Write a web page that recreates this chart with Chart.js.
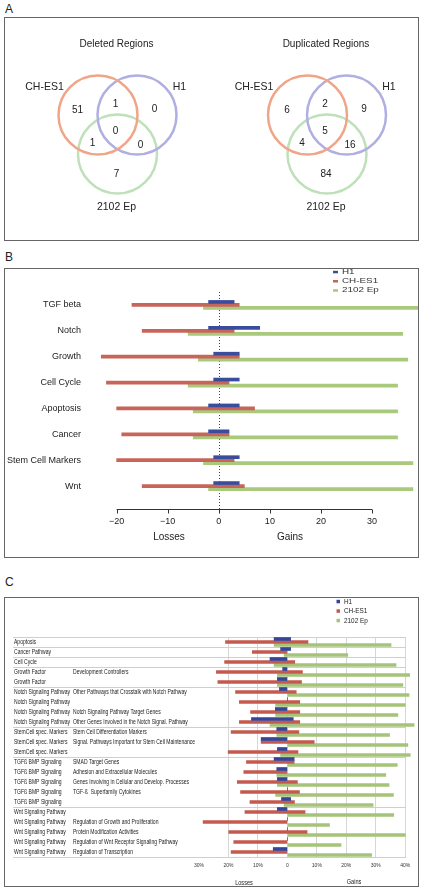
<!DOCTYPE html>
<html>
<head>
<meta charset="utf-8">
<script src="https://cdn.jsdelivr.net/npm/chart.js@4.4.1/dist/chart.umd.min.js"></script>
<style>
  body { margin: 0; background: #fff; font-family: "Liberation Sans", Arial, sans-serif; }
  .wrap { position: relative; width: 424px; height: 892px; overflow: hidden; }
  .tag { position: absolute; left: 5px; font-size: 12px; line-height: 12px; color: #222; }
  .box { position: absolute; left: 4px; width: 413px; border: 1px solid #666; }
  .box canvas { position: absolute; left: 0; top: 0; }
  .note { position: absolute; line-height: 1; white-space: nowrap; color: #222; }
</style>
</head>
<body>
<div class="wrap">
  <div class="tag" style="top:3px">A</div>
  <div class="box" style="top:17px;height:222px"><canvas id="venn" width="413" height="222"></canvas></div>

  <div class="tag" style="top:251px">B</div>
  <div class="box" style="top:268px;height:288px"><canvas id="pathways" width="413" height="288"></canvas></div>
  <div class="note" style="left:169px;top:537px;font-size:10px;transform:translate(-50%,-50%)">Losses</div>
  <div class="note" style="left:290px;top:537px;font-size:10px;transform:translate(-50%,-50%)">Gains</div>

  <div class="tag" style="top:576px">C</div>
  <div class="box" style="top:597px;height:288px"><canvas id="genes" width="413" height="288"></canvas></div>
  <div class="note" style="left:244px;top:882px;font-size:7px;transform:translate(-50%,-50%) scaleX(0.8)">Losses</div>
  <div class="note" style="left:354px;top:881px;font-size:7px;transform:translate(-50%,-50%) scaleX(0.8)">Gains</div>
</div>

<script>
// ---- A: Venn counts ----
const vennTitles = ['Deleted Regions', 'Duplicated Regions'];
const setNames = ['CH-ES1', 'H1', '2102 Ep'];
// regions: CH-ES1 only, H1 only, 2102 Ep only, CH-ES1+H1, CH-ES1+2102, H1+2102, all three
const deletedCounts = [51, 0, 7, 1, 1, 0, 0];
const duplicatedCounts = [6, 9, 84, 2, 4, 16, 5];

// ---- B: pathways, number of genes ----
const pathwayNames = ['TGF beta', 'Notch', 'Growth', 'Cell Cycle', 'Apoptosis', 'Cancer', 'Stem Cell Markers', 'Wnt'];
const h1Losses = [-2, -2, -1, -1, -2, -2, -1, -1];
const h1Gains = [3, 8, 4, 4, 4, 2, 4, 4];
const ches1Losses = [-17, -15, -23, -22, -20, -19, -20, -15];
const ches1Gains = [4, 3, 4, 2, 7, 2, 3, 5];
const epLosses = [-3, -6, -4, -6, -5, -5, -3, -2];
const epGains = [40, 36, 37, 35, 35, 35, 38, 38];
const pathwayTicks = [-20, -10, 0, 10, 20, 30];

// ---- C: gene subsets, percent ----
const geneGroups = ['Apoptosis', 'Cancer Pathway', 'Cell Cycle', 'Growth Factor', 'Growth Factor',
  'Notch Signaling Pathway', 'Notch Signaling Pathway', 'Notch Signaling Pathway', 'Notch Signaling Pathway',
  'StemCell spec. Markers', 'StemCell spec. Markers', 'StemCell spec. Markers',
  'TGFß BMP Signaling', 'TGFß BMP Signaling', 'TGFß BMP Signaling', 'TGFß BMP Signaling', 'TGFß BMP Signaling',
  'Wnt Signaling Pathway', 'Wnt Signaling Pathway', 'Wnt Signaling Pathway', 'Wnt Signaling Pathway', 'Wnt Signaling Pathway'];
const geneSubsets = ['', '', '', 'Development Controllers', '',
  'Other Pathways that Crosstalk with Notch Pathway', '', 'Notch Signaling Pathway Target Genes', 'Other Genes Involved in the Notch Signal. Pathway',
  'Stem Cell Differentiation Markers', 'Signal. Pathways Important for Stem Cell Maintenance', '',
  'SMAD Target Genes', 'Adhesion and Extracellular Molecules', 'Genes Involving in Cellular and Develop. Processes', 'TGF-ß  Superfamily Cytokines', '',
  '', 'Regulation of Growth and Proliferation', 'Protein Modification Activities', 'Regulation of Wnt Receptor Signaling Pathway', 'Regulation of Transcription'];
const geneH1Losses = [-4.5, -2.3, -5.9, -1.6, -3.4, -2.7, 0, -4.1, -12.2, -3.6, -8.9, -3.4, -4.5, -3.6, -3.4, 0, -2.0, -3.4, 0, 0, 0, -4.8];
const geneH1Gains = [1.1, 1.1, 0, 0, 0, 0, 0, 0, 2.0, 0, 0, 0, 2.3, 0, 0, 0, 1.1, 0, 0, 0, 0, 0];
const geneChLosses = [-21.0, -11.9, -21.3, -24.1, -23.6, -17.6, -16.3, -12.5, -16.3, -19.1, -8.9, -20.1, -13.9, -14.8, -17.0, -15.9, -12.7, -14.4, -28.6, -19.9, -18.2, -19.1];
const geneChGains = [7.0, 0, 2.5, 5.1, 4.8, 3.0, 4.2, 4.2, 4.2, 3.9, 9.1, 3.6, 2.3, 0, 3.4, 4.1, 2.4, 6.0, 0, 6.7, 0, 0];
const geneEpLosses = [-4.5, -1.1, -4.5, -3.4, -3.4, 0, -4.0, -4.0, -5.9, -3.6, 0, -2.3, 0, -3.6, -3.4, -4.0, -1.1, 0, 0, 0, 0, 0];
const geneEpGains = [35.2, 20.5, 36.9, 41.5, 39.2, 41.3, 40.0, 37.5, 43.0, 34.7, 40.9, 41.7, 37.3, 33.4, 34.5, 36.0, 29.1, 36.1, 14.3, 40.0, 18.2, 28.6];
const geneTicks = [-30, -20, -10, 0, 10, 20, 30, 40];

Chart.defaults.font.family = '"Liberation Sans", Arial, sans-serif';
Chart.defaults.color = '#222';
Chart.defaults.animation = false;

const FONT = '"Liberation Sans", Arial, sans-serif';

// text drawn squeezed or stretched sideways
function drawText(ctx, text, x, y, size, stretch) {
  ctx.save();
  ctx.font = size + 'px ' + FONT;
  ctx.scale(stretch, 1);
  ctx.fillText(text, x / stretch, y);
  ctx.restore();
}

// ================= A =================
// layout of the two diagrams (page pixels)
const vennCenters = [{ x: 117.5, y: 130 }, { x: 327, y: 130 }];
const circleOffsets = [[-19.5, -15], [19.5, -15], [0, 24]];
const regionOffsets = [[-40, -20], [37, -21], [-1, 44], [-2, -26], [-25, 13.5], [23, 15], [-2, 1]];
const nameOffsets = [[-73, -43], [62, -43], [-1, 77]];
const titleOffset = [-1, -86];
const vennColors = ['#f0a588', '#afafe1', '#bee1b9'];
const vennCounts = [deletedCounts, duplicatedCounts];

const vennTexts = {
  id: 'vennTexts',
  afterDatasetsDraw(chart) {
    const ctx = chart.ctx;
    const xs = chart.scales.x, ys = chart.scales.y;
    ctx.save();
    ctx.fillStyle = '#222';
    ctx.textAlign = 'center';
    ctx.textBaseline = 'middle';
    vennCenters.forEach((c, v) => {
      const at = o => [xs.getPixelForValue(c.x + o[0]), ys.getPixelForValue(c.y + o[1])];
      let p = at(titleOffset);
      drawText(ctx, vennTitles[v], p[0], p[1], 10, 1);
      setNames.forEach((name, i) => {
        p = at(nameOffsets[i]);
        drawText(ctx, name, p[0], p[1], 10.5, 1);
      });
      vennCounts[v].forEach((n, r) => {
        p = at(regionOffsets[r]);
        drawText(ctx, String(n), p[0], p[1], 10, 1);
      });
    });
    ctx.restore();
  }
};

new Chart(document.getElementById('venn'), {
  type: 'scatter',
  data: {
    datasets: setNames.map((name, i) => ({
      label: name,
      data: vennCenters.map(c => ({ x: c.x + circleOffsets[i][0], y: c.y + circleOffsets[i][1] })),
      pointRadius: 39.5,
      pointBorderWidth: 2.5,
      pointBorderColor: vennColors[i],
      pointBackgroundColor: 'rgba(0,0,0,0)',
      clip: false
    }))
  },
  options: {
    responsive: false,
    events: [],
    layout: { padding: 0, autoPadding: false },
    plugins: { legend: { display: false }, tooltip: { enabled: false } },
    scales: {
      x: { type: 'linear', display: false, min: 5, max: 418 },
      y: { type: 'linear', display: false, min: 18, max: 240, reverse: true }
    }
  },
  plugins: [vennTexts]
});

// ================= B =================
const pathwayAxis = {
  id: 'pathwayAxis',
  beforeDatasetsDraw(chart) {
    const { ctx, chartArea, scales: { x } } = chart;
    const z = Math.round(x.getPixelForValue(0)) + 0.5;
    ctx.save();
    ctx.strokeStyle = '#444';
    ctx.lineWidth = 1;
    ctx.setLineDash([1, 2]);
    ctx.beginPath();
    ctx.moveTo(z, chartArea.top);
    ctx.lineTo(z, chartArea.bottom + 10);
    ctx.stroke();
    ctx.restore();
  },
  afterDraw(chart) {
    const { ctx, chartArea, scales: { x } } = chart;
    const axisY = Math.round(chartArea.bottom + 10) + 0.5;
    ctx.save();
    ctx.strokeStyle = '#333';
    ctx.lineWidth = 1;
    ctx.beginPath();
    ctx.moveTo(x.getPixelForValue(pathwayTicks[0]), axisY);
    ctx.lineTo(x.getPixelForValue(pathwayTicks[pathwayTicks.length - 1]), axisY);
    pathwayTicks.forEach(v => {
      const p = Math.round(x.getPixelForValue(v)) + 0.5;
      ctx.moveTo(p, axisY);
      ctx.lineTo(p, axisY + 4);
    });
    ctx.stroke();

    // legend, top right
    ctx.textAlign = 'left';
    ctx.textBaseline = 'middle';
    ctx.fillStyle = '#333';
    chart.data.datasets.forEach((ds, i) => {
      const y = 3 + i * 9.2;
      ctx.fillStyle = ds.backgroundColor;
      ctx.fillRect(328, y - 1.2, 5, 2.5);
      ctx.fillStyle = '#333';
      drawText(ctx, ds.label, 337, y, 6.8, 1.45);
    });
    ctx.restore();
  }
};

new Chart(document.getElementById('pathways'), {
  type: 'bar',
  data: {
    labels: pathwayNames,
    datasets: [
      { label: 'H1', data: pathwayNames.map((_, i) => [h1Losses[i], h1Gains[i]]), backgroundColor: '#3a4c9c' },
      { label: 'CH-ES1', data: pathwayNames.map((_, i) => [ches1Losses[i], ches1Gains[i]]), backgroundColor: '#c8645a' },
      { label: '2102 Ep', data: pathwayNames.map((_, i) => [epLosses[i], epGains[i]]), backgroundColor: '#a9c97c' }
    ]
  },
  options: {
    indexAxis: 'y',
    responsive: false,
    events: [],
    layout: { padding: { top: 23, left: 0, right: 0, bottom: 0 } },
    plugins: { legend: { display: false }, tooltip: { enabled: false } },
    datasets: { bar: { barThickness: 3, categoryPercentage: 0.845, borderWidth: 0 } },
    scales: {
      x: {
        min: -26,
        max: 39,
        afterBuildTicks: s => { s.ticks = pathwayTicks.map(v => ({ value: v })); },
        afterFit: s => { s.height = 58; },
        grid: { display: false, drawTicks: false },
        border: { display: false },
        ticks: {
          padding: 17,
          color: '#222',
          font: { size: 9 },
          callback: v => v < 0 ? '\u2212' + (-v) : String(v)
        }
      },
      y: {
        afterFit: s => { s.width = 81; },
        grid: { display: false, drawTicks: false },
        border: { display: false },
        ticks: { padding: 5, color: '#222', font: { size: 9 } }
      }
    }
  },
  plugins: [pathwayAxis]
});

// ================= C =================
const geneDecor = {
  id: 'geneDecor',
  beforeDatasetsDraw(chart) {
    const { ctx, scales: { y } } = chart;
    const half = (y.getPixelForValue(1) - y.getPixelForValue(0)) / 2;
    ctx.save();
    ctx.strokeStyle = '#cfcfcf';
    ctx.lineWidth = 1;
    ctx.beginPath();
    geneGroups.forEach((g, i) => {
      if (i === 0 || g !== geneGroups[i - 1]) {
        const yy = Math.round(y.getPixelForValue(i) - half) + 0.5;
        ctx.moveTo(8, yy);
        ctx.lineTo(401, yy);
      }
    });
    const last = Math.round(y.getPixelForValue(geneGroups.length - 1) + half) + 0.5;
    ctx.moveTo(8, last);
    ctx.lineTo(401, last);
    ctx.stroke();
    ctx.restore();
  },
  afterDraw(chart) {
    const { ctx, scales: { y } } = chart;
    ctx.save();
    ctx.fillStyle = '#222';
    ctx.textAlign = 'left';
    ctx.textBaseline = 'middle';
    geneGroups.forEach((g, i) => {
      const yy = y.getPixelForValue(i);
      drawText(ctx, g, 9, yy, 7, 0.72);
      if (geneSubsets[i]) drawText(ctx, geneSubsets[i], 68, yy, 7, 0.72);
    });

    // legend, top right
    chart.data.datasets.forEach((ds, i) => {
      const yy = 3.5 + i * 9.5;
      ctx.fillStyle = ds.backgroundColor;
      ctx.fillRect(331.5, yy - 1.7, 3.5, 3.5);
      ctx.fillStyle = '#222';
      drawText(ctx, ds.label, 339, yy, 7.5, 0.85);
    });
    ctx.restore();
  }
};

new Chart(document.getElementById('genes'), {
  type: 'bar',
  data: {
    labels: geneGroups.map((g, i) => geneSubsets[i] ? g + ' ' + geneSubsets[i] : g),
    datasets: [
      { label: 'H1', data: geneGroups.map((_, i) => [geneH1Losses[i], geneH1Gains[i]]), backgroundColor: '#34459a' },
      { label: 'CH-ES1', data: geneGroups.map((_, i) => [geneChLosses[i], geneChGains[i]]), backgroundColor: '#c45a4e' },
      { label: '2102 Ep', data: geneGroups.map((_, i) => [geneEpLosses[i], geneEpGains[i]]), backgroundColor: '#a5c47a' }
    ]
  },
  options: {
    indexAxis: 'y',
    responsive: false,
    events: [],
    layout: { padding: { top: 39, left: 194, right: 1, bottom: 0 } },
    plugins: { legend: { display: false }, tooltip: { enabled: false } },
    datasets: { bar: { barThickness: 3, categoryPercentage: 0.75, borderWidth: 0 } },
    scales: {
      x: {
        min: -30,
        max: 44,
        afterBuildTicks: s => { s.ticks = geneTicks.map(v => ({ value: v })); },
        afterFit: s => { s.height = 29; },
        grid: {
          drawTicks: false,
          lineWidth: 1,
          color: c => (c.tick && c.tick.value === -30) ? 'rgba(0,0,0,0)' : '#d6d6d6'
        },
        border: { display: false },
        ticks: {
          padding: 6,
          color: '#333',
          font: { size: 5 },
          callback: v => v === 0 ? '0' : Math.abs(v) + '%'
        }
      },
      y: { display: false }
    }
  },
  plugins: [geneDecor]
});
</script>
</body>
</html>
